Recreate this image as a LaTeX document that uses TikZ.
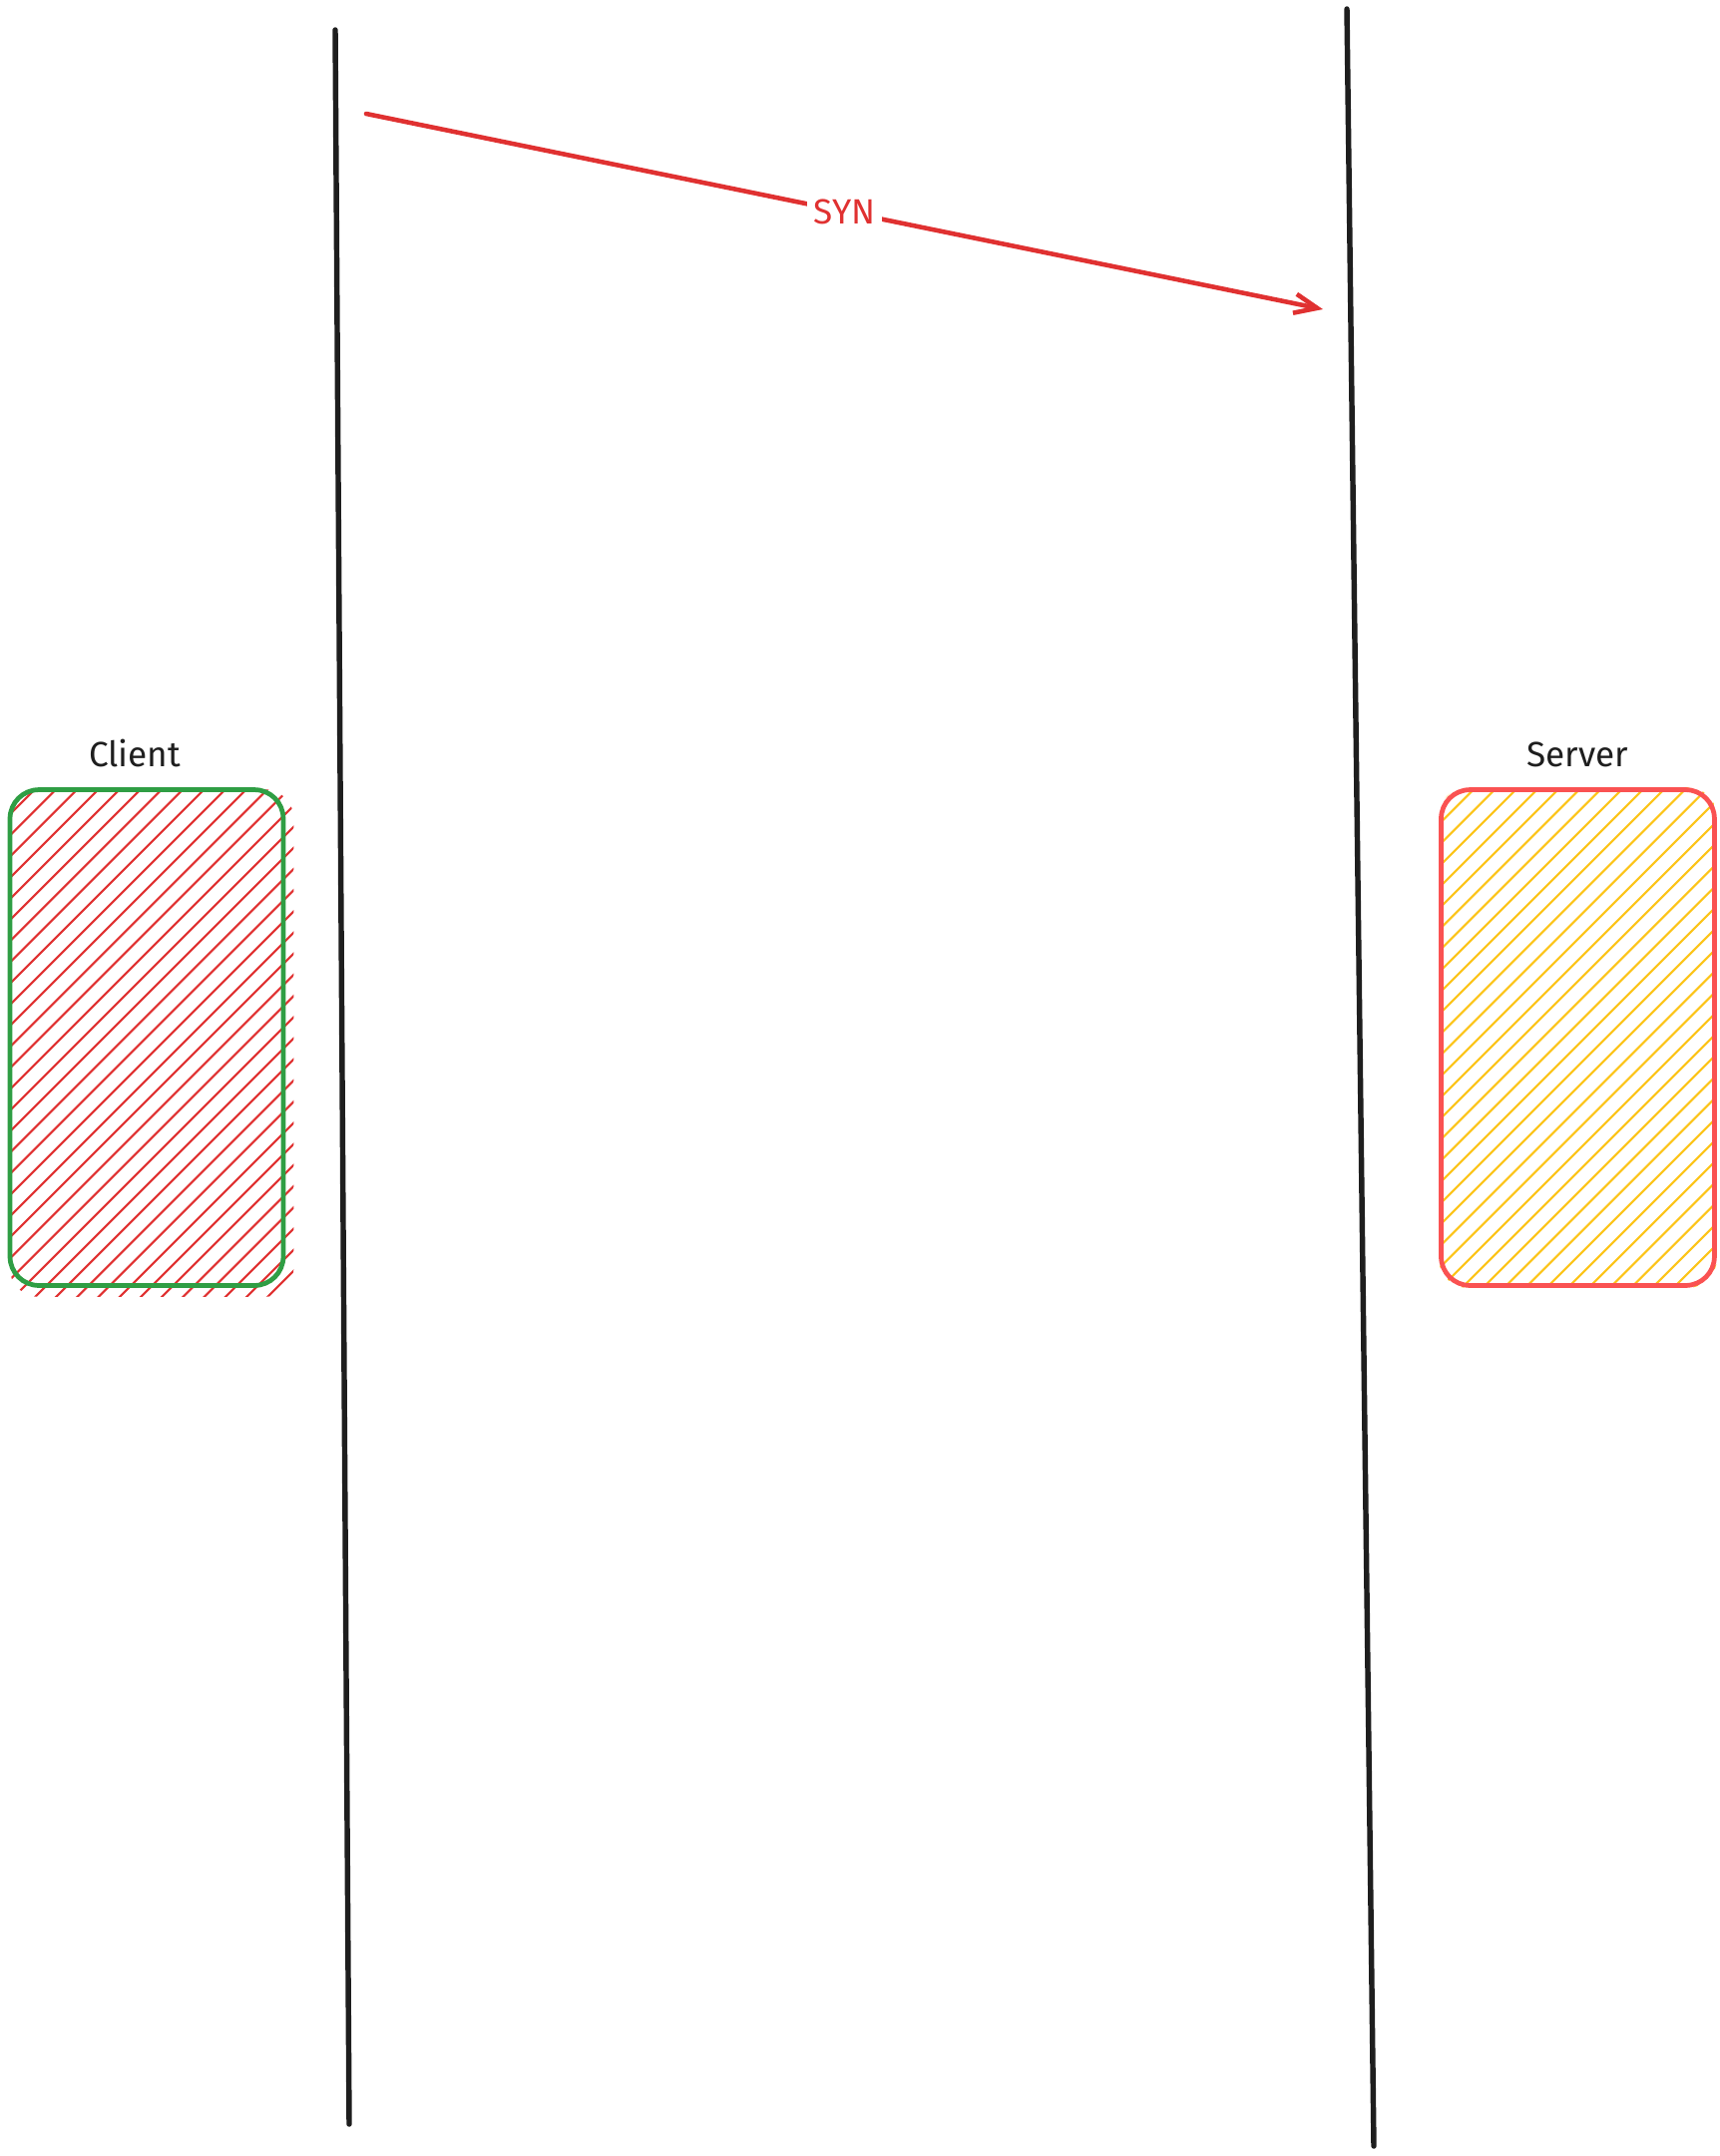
\documentclass[tikz,border=0pt]{standalone}
\usepackage{fontspec}
\setmainfont{Fira Sans}
\usetikzlibrary{arrows.meta, positioning}
\usetikzlibrary{backgrounds}
\definecolor{inkblack}{HTML}{1E1E1E}
\definecolor{synred}{HTML}{E03131}
\definecolor{boxgreen}{HTML}{2F9E44}
\definecolor{boxred}{HTML}{FA5252}
\definecolor{hatchyellow}{HTML}{FCC419}
\newcommand{\hostwidth}{5.48cm}
\newcommand{\hostheight}{9.94cm}
\tikzset{
    %Define standard arrow tip
    >={Straight Barb[length=13pt,width=11pt]},
    % Define style for the life lines
    lifeline/.style={
           draw=inkblack,
           line width=3.1pt,
           line cap=round},
    % Define style for host boxes
    host/.style={
           rectangle,
           rounded corners=0.58cm,
           line width=2.7pt,
           minimum width=\hostwidth,
           minimum height=\hostheight},
    % Define style for hatching
    hatchline/.style={
           line width=1.2pt,
           line cap=round},
    % Define style for labels
    hostlabel/.style={
           inner sep=0pt,
           text=inkblack,
           font=\fontsize{20}{24}\selectfont},
    % Define arrow style
    msg/.style={
           ->,
           draw=synred,
           line width=2.6pt,
           line cap=round}
}

\begin{document}
\begin{tikzpicture}[x=0.02cm, y=-0.02cm]
\useasboundingbox (0,0) rectangle (1724,2161);

% Style for the message label
\tikzstyle{synlabel}=[fill=white, inner sep=4pt, text=synred, font=\fontsize{20}{24}\selectfont]

% Ends of the life lines
\coordinate (ctop) at (336,30);
\coordinate (cbottom) at (350,2129);
\coordinate (stop) at (1350,9);
\coordinate (sbottom) at (1377,2151);
% Ends of the message
\coordinate (synstart) at (367,114);
\coordinate (synend) at (1326,310);

\draw[lifeline] (ctop) -- (cbottom);
\draw[lifeline] (stop) -- (sbottom);

% Hosts
\node[host, draw=boxgreen] (client) at (147,1040) {};
\node[host, draw=boxred] (server) [right = 23.12cm of client] {};
\node[hostlabel] (clientname) [above = 0.4cm of client, xshift=-0.24cm] {Client};
\node[hostlabel] (servername) [above = 0.4cm of server] {Server};

% Hatching under the boxes
\begin{scope}[on background layer]
  \begin{scope}
    \clip[rounded corners=0.58cm] ([shift={(2,2)}]client.north west) rectangle ([shift={(8,9)}]client.south east);
    \foreach \c in {805,826.2,...,1600}
      \draw[hatchline, synred] ({\c-1310},1310) -- ({\c-780},780);
  \end{scope}
  \begin{scope}
    \clip[rounded corners=0.58cm] (server.north west) rectangle (server.south east);
    \foreach \c in {2226,2247.2,...,3010}
      \draw[hatchline, hatchyellow] ({\c-1300},1300) -- ({\c-780},780);
  \end{scope}
\end{scope}

\path
% message
(synstart) edge[msg] node[synlabel] {SYN} (synend);

\end{tikzpicture}
\end{document}
